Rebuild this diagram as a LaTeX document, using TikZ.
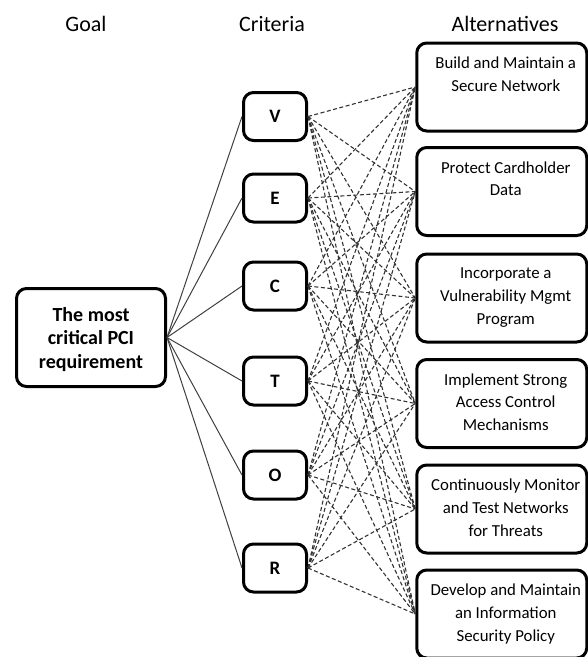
\documentclass[tikz,border=0pt]{standalone}
\usepackage{fontspec}
\setmainfont{Carlito}
\usetikzlibrary{positioning}

\tikzset{
  head/.style={anchor=base, font=\fontsize{22}{26}\selectfont},
  box/.style={draw=black, line width=3pt, rounded corners=10pt, fill=white},
  goalbox/.style={box, minimum width=149pt, minimum height=98pt, align=center,
    text depth=0pt, font=\fontsize{20}{23.5}\selectfont\bfseries},
  critbox/.style={box, minimum width=63pt, minimum height=48pt, inner sep=0pt,
    font=\fontsize{19}{23}\selectfont\bfseries},
  altbox/.style={box, minimum width=170pt, minimum height=88pt},
  alttext/.style={align=center, xshift=4pt, font=\fontsize{16.8}{22.7}\selectfont},
  goalline/.style={black!75, line width=1pt},
  altline/.style={black!80, line width=1.1pt, dash pattern=on 4pt off 2.5pt}
}

\begin{document}
\begin{tikzpicture}[x=1pt,y=-1pt]
    \useasboundingbox (0,0) rectangle (588,657);

    \node[head] (hgoal) at (86,31) {Goal};
    \node[head] (hcrit) at (272,31) {Criteria};
    \node[head] (halt) at (505,31) {Alternatives};

    \coordinate (gc) at (91,337.5);
    \coordinate (vc) at (275,116.5);
    \coordinate (ec) at (275,198);
    \coordinate (cc) at (275,286);
    \coordinate (tc) at (275,381);
    \coordinate (oc) at (275,475);
    \coordinate (rc) at (275,568);

    \node[goalbox] (goal) at (gc) {The most\\critical PCI\\requirement};

    \node[critbox] (V) at (vc) {V};
    \node[critbox] (E) at (ec) {E};
    \node[critbox] (C) at (cc) {C};
    \node[critbox] (T) at (tc) {T};
    \node[critbox] (O) at (oc) {O};
    \node[critbox] (R) at (rc) {R};

    \node[altbox] (A1) at (501.75,87) {};
    \node[altbox] (A2) at (501.75,191.5) {};
    \node[altbox] (A3) at (501.75,298) {};
    \node[altbox] (A4) at (501.75,403.5) {};
    \node[altbox] (A5) at (501.75,509) {};
    \node[altbox] (A6) at (501.75,614) {};

    \node[alttext, below=12pt of A1.north] (t1) {Build and Maintain a\\Secure Network};
    \node[alttext, below=12pt of A2.north] (t2) {Protect Cardholder\\Data};
    \node[alttext, below=12pt of A3.north] (t3) {Incorporate a\\Vulnerability Mgmt\\Program};
    \node[alttext, below=12pt of A4.north] (t4) {Implement Strong\\Access Control\\Mechanisms};
    \node[alttext, below=12pt of A5.north] (t5) {Continuously Monitor\\and Test Networks\\for Threats};
    \node[alttext, below=12pt of A6.north] (t6) {Develop and Maintain\\an Information\\Security Policy};

    \foreach \c in {V,E,C,T,O,R} {
        \draw[goalline] (goal.east) -- (\c.west);
        \foreach \a in {1,...,6}
            \draw[altline] (\c.east) -- (A\a.west);
    }
\end{tikzpicture}
\end{document}
